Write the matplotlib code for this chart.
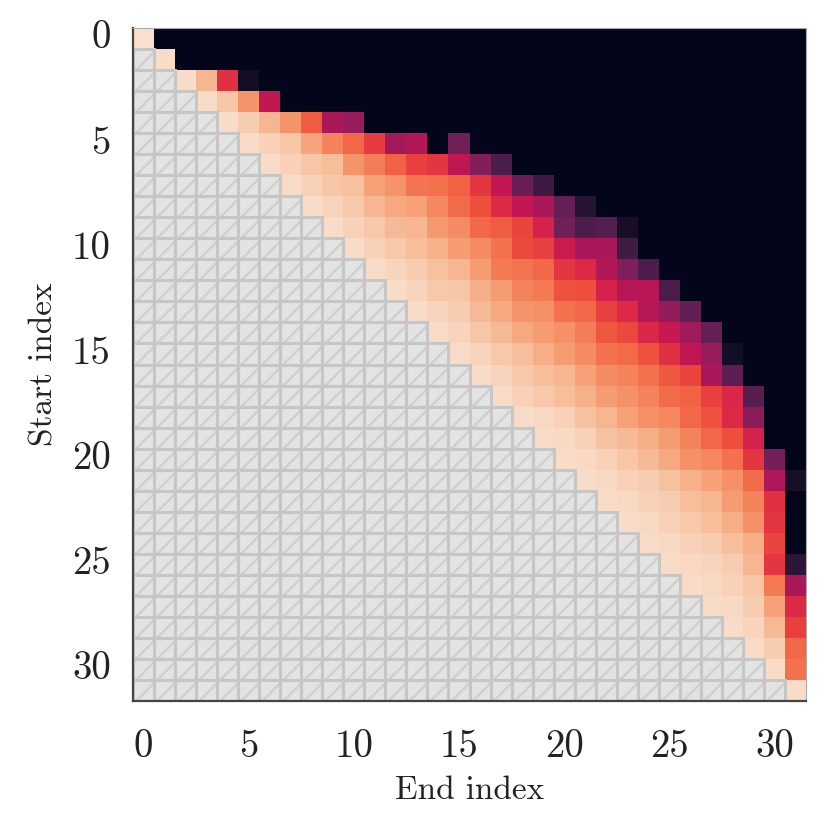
import numpy as np
import matplotlib
matplotlib.use("Agg")
import matplotlib.pyplot as plt
import seaborn as sns
from matplotlib.patches import Rectangle

# values per start index, beginning at the diagonal (end == start); later ends are 0
band_rows = [
    [0.97],
    [0.96],
    [0.96, 0.86, 0.57, 0.05],
    [0.96, 0.90, 0.78, 0.48],
    [0.96, 0.92, 0.86, 0.78, 0.66, 0.42, 0.38],
    [0.96, 0.93, 0.90, 0.82, 0.74, 0.68, 0.59, 0.41, 0.44, 0.00, 0.29],
    [0.96, 0.93, 0.90, 0.88, 0.78, 0.73, 0.67, 0.60, 0.58, 0.47, 0.33, 0.20],
    [0.96, 0.93, 0.90, 0.89, 0.81, 0.78, 0.71, 0.70, 0.67, 0.58, 0.48, 0.27, 0.16],
    [0.96, 0.94, 0.91, 0.86, 0.83, 0.81, 0.75, 0.69, 0.63, 0.55, 0.48, 0.42, 0.26, 0.10],
    [0.96, 0.93, 0.91, 0.87, 0.86, 0.79, 0.76, 0.68, 0.66, 0.61, 0.53, 0.29, 0.20, 0.22, 0.06],
    [0.96, 0.93, 0.91, 0.88, 0.85, 0.80, 0.76, 0.70, 0.62, 0.60, 0.50, 0.42, 0.42, 0.17],
    [0.96, 0.94, 0.92, 0.89, 0.86, 0.80, 0.72, 0.71, 0.68, 0.58, 0.55, 0.44, 0.32, 0.20],
    [0.96, 0.94, 0.91, 0.90, 0.84, 0.80, 0.74, 0.72, 0.64, 0.63, 0.53, 0.45, 0.46, 0.20],
    [0.96, 0.94, 0.92, 0.87, 0.83, 0.78, 0.77, 0.70, 0.68, 0.60, 0.55, 0.45, 0.37, 0.25],
    [0.96, 0.94, 0.90, 0.87, 0.83, 0.80, 0.77, 0.73, 0.65, 0.62, 0.54, 0.49, 0.40, 0.26],
    [0.96, 0.94, 0.91, 0.88, 0.84, 0.80, 0.76, 0.70, 0.69, 0.64, 0.57, 0.47, 0.38, 0.05],
    [0.96, 0.94, 0.91, 0.88, 0.86, 0.81, 0.76, 0.74, 0.70, 0.65, 0.61, 0.42, 0.24],
    [0.96, 0.93, 0.91, 0.88, 0.85, 0.80, 0.77, 0.74, 0.69, 0.67, 0.60, 0.54, 0.23],
    [0.96, 0.95, 0.93, 0.89, 0.86, 0.81, 0.77, 0.75, 0.68, 0.64, 0.55, 0.35],
    [0.96, 0.95, 0.93, 0.89, 0.87, 0.84, 0.80, 0.74, 0.68, 0.63, 0.53],
    [0.96, 0.95, 0.93, 0.90, 0.87, 0.83, 0.77, 0.75, 0.70, 0.58, 0.30],
    [0.96, 0.95, 0.93, 0.92, 0.89, 0.85, 0.81, 0.77, 0.69, 0.43, 0.06],
    [0.96, 0.95, 0.93, 0.92, 0.88, 0.86, 0.80, 0.74, 0.57, 0.00],
    [0.96, 0.95, 0.93, 0.91, 0.88, 0.84, 0.77, 0.58, 0.00],
    [0.96, 0.95, 0.93, 0.92, 0.88, 0.84, 0.61, 0.00],
    [0.96, 0.95, 0.94, 0.92, 0.86, 0.58, 0.11],
    [0.96, 0.95, 0.93, 0.90, 0.72, 0.42],
    [0.96, 0.95, 0.92, 0.81, 0.55],
    [0.96, 0.94, 0.87, 0.60],
    [0.96, 0.92, 0.68],
    [0.96, 0.70],
    [0.96],
]
tick_pos = [0, 5, 10, 15, 20, 25, 30]

n = len(band_rows)
scores = np.zeros((n, n))
for i, vals in enumerate(band_rows):
    scores[i, i:i + len(vals)] = vals
mask = np.tril(np.ones((n, n), dtype=bool), k=-1)

plt.rcParams['font.family'] = 'serif'
plt.rcParams['font.serif'] = ['cmr10']

fig = plt.figure(figsize=(8.3, 8.31), dpi=100)
ax = fig.add_axes([133 / 830, 1 - 701 / 831, 673 / 830, 673 / 831])

sns.heatmap(scores, mask=mask, cmap='rocket', vmin=0, vmax=1, cbar=False,
            square=False, ax=ax)

# greyed, hatched lower triangle
for i in range(n):
    for j in range(i):
        ax.add_patch(Rectangle((j, i), 1, 1, facecolor='#e3e3e3',
                               edgecolor='none', zorder=2))
        ax.plot([j + 0.15, j + 1.0], [i + 1.0, i + 0.15], color='#d0d0d0',
                lw=1.8, zorder=3, solid_capstyle='butt')
for i in range(n):
    for j in range(i):
        ax.add_patch(Rectangle((j, i), 1, 1, facecolor='none',
                               edgecolor='#c6c6c6', lw=2.2, zorder=4))

ax.set_xlim(0, n)
ax.set_ylim(n, 0)
ax.set_xticks([p + 0.5 for p in tick_pos])
ax.set_xticklabels([str(p) for p in tick_pos], rotation=0)
ax.set_yticks([p + 0.5 for p in tick_pos])
ax.set_yticklabels([str(p) for p in tick_pos], rotation=0)
ax.tick_params(axis='both', length=0, labelsize=28, colors='#222222')
ax.tick_params(axis='y', pad=16)
ax.tick_params(axis='x', pad=20)

ax.set_xlabel('End index', fontsize=24, color='#222222', labelpad=8)
ax.set_ylabel('Start index', fontsize=24, color='#222222', labelpad=10)

for side, sp in ax.spines.items():
    sp.set_visible(True)
    if side in ('left', 'bottom'):
        sp.set_color('#444444')
        sp.set_linewidth(1.6)
    else:
        sp.set_color('#aaaaaa')
        sp.set_linewidth(0.8)
    sp.set_zorder(5)

fig.savefig('out.png', dpi=100)
